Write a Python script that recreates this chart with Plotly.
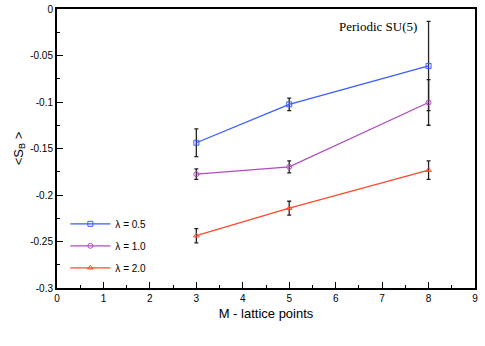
import plotly.graph_objects as go

# lattice points M
m_points = [3, 5, 8]

# <S_B> for each lambda, with error bars
sb_lam05 = [-0.1438, -0.1025, -0.0612]
err_lam05 = [0.015, 0.0067, 0.048]

sb_lam10 = [-0.1776, -0.1697, -0.1005]
err_lam10 = [0.0057, 0.0065, 0.0245]

sb_lam20 = [-0.2438, -0.2142, -0.1733]
err_lam20 = [0.0077, 0.0075, 0.0099]

y_ticks = [0, -0.05, -0.1, -0.15, -0.2, -0.25, -0.3]
y_tick_text = ["0", "-0.05", "-0.1", "-0.15", "-0.2", "-0.25", "-0.3"]
x_ticks = [0, 1, 2, 3, 4, 5, 6, 7, 8, 9]
x_tick_text = ["0", "1", "2", "3", "4", "5", "6", "7", "8", "9"]

series = [
    ("λ = 0.5", sb_lam05, err_lam05, "#3a5cff", "square-open"),
    ("λ = 1.0", sb_lam10, err_lam10, "#b04cc0", "circle-open"),
    ("λ = 2.0", sb_lam20, err_lam20, "#ff4a2e", "triangle-up-open"),
]

fig = go.Figure()

for nome, valores, erros, cor, simbolo in series:
    fig.add_trace(go.Scatter(
        x=m_points,
        y=valores,
        name=nome,
        legendgroup=nome,
        mode="lines+markers",
        line=dict(color=cor, width=1.3),
        marker=dict(symbol=simbolo, size=5, color=cor, line=dict(width=1, color=cor)),
        error_y=dict(type="data", array=erros, visible=True,
                     color="#222222", thickness=1.3, width=2),
    ))

fig.add_annotation(
    x=0.671, y=0.936, xref="paper", yref="paper",
    text="Periodic SU(5)", showarrow=False,
    xanchor="left", yanchor="middle",
    font=dict(family="Liberation Serif", size=13, color="black"),
)

fig.update_layout(
    width=485, height=346,
    margin=dict(l=57, r=7, t=7, b=58),
    plot_bgcolor="white",
    paper_bgcolor="white",
    font=dict(family="Arial", size=10, color="black"),
    showlegend=True,
    legend=dict(x=0.02, y=0.282, xanchor="left", yanchor="top",
                bgcolor="rgba(0,0,0,0)", font=dict(size=10),
                tracegroupgap=3, itemwidth=40),
)

fig.update_xaxes(
    range=[0, 9], tickvals=x_ticks, ticktext=x_tick_text,
    ticks="inside", ticklen=6, tickwidth=1.2, tickcolor="black",
    minor=dict(tickvals=[0.5, 1.5, 2.5, 3.5, 4.5, 5.5, 6.5, 7.5, 8.5],
               ticks="inside", ticklen=3, tickcolor="black"),
    showline=True, linecolor="black", linewidth=2, mirror=True,
    showgrid=False, zeroline=False,
    title=dict(text="M - lattice points", font=dict(size=13), standoff=6),
)

fig.update_yaxes(
    range=[-0.3, 0], tickvals=y_ticks, ticktext=y_tick_text,
    ticks="inside", ticklen=6, tickwidth=1.2, tickcolor="black",
    minor=dict(tickvals=[-0.025, -0.075, -0.125, -0.175, -0.225, -0.275],
               ticks="inside", ticklen=3, tickcolor="black"),
    showline=True, linecolor="black", linewidth=2, mirror=True,
    showgrid=False, zeroline=False, automargin=False,
    title=dict(text="&lt;S<sub>B</sub> &gt;", font=dict(size=13), standoff=4),
)

fig.write_html("out.html", post_script="document.body.style.margin='0';",
               config={"displayModeBar": False})
